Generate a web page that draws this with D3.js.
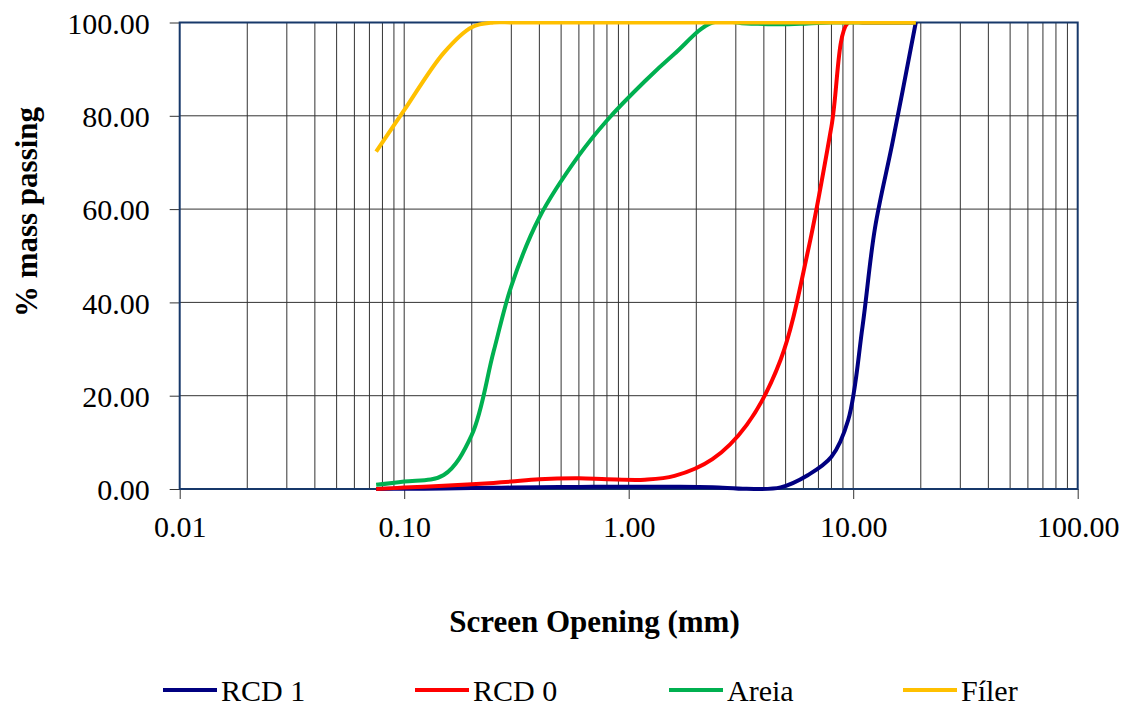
<!DOCTYPE html>
<html>
<head>
<meta charset="utf-8">
<script src="https://cdn.jsdelivr.net/npm/d3@7"></script>
<style>
  body { margin: 0; background: #fff; }
  text { font-family: "Liberation Serif", "Times New Roman", serif; fill: #000; }
</style>
</head>
<body>
<div id="chart"></div>
<script>
// sieve openings (mm) and % passing
const sieves = [0.075, 0.1, 0.15, 0.2, 0.25, 0.3, 0.4, 0.6, 0.8, 1.18, 1.6, 2.36, 3.35, 4.75, 6.3, 8, 9.5, 11, 12.5, 15, 19];
const rcd1  = [0, 0.05, 0.1, 0.2, 0.25, 0.3, 0.4, 0.45, 0.5, 0.5, 0.5, 0.4, 0.05, 0.35, 3.0, 6.9, 14.8, 34.8, 55.9, 74.5, 100];
const rcd0  = [0, 0.3, 0.7, 1.0, 1.3, 1.6, 2.1, 2.3, 2.1, 2.0, 2.8, 6.4, 13.7, 27.7, 51.2, 77.7, 100, 100, 100, 100, 100];
const areia = [0.9, 1.6, 3.0, 11.6, 29.4, 43.5, 58.2, 71.5, 79.0, 87.4, 93.3, 100, 99.8, 99.6, 99.8, 100, 100, 100, 100, 100, 100];
const filer = [72.3, 81.2, 93.5, 99.0, 100, 100, 100, 100, 100, 100, 100, 100, 100, 100, 100, 100, 100, 100, 100, 100, 100];

const seriesNames  = ["RCD 1", "RCD 0", "Areia", "Fíler"];
const seriesColors = ["#000080", "#ff0000", "#00b050", "#ffc000"];
const xTicks = [0.01, 0.1, 1, 10, 100];
const yTicks = [0, 20, 40, 60, 80, 100];

const W = 1129, H = 707;
const plot = {left: 179.7, right: 1077.7, top: 22.5, bottom: 489};

const svg = d3.select("#chart").append("svg").attr("width", W).attr("height", H);

const x = d3.scaleLog().domain([0.01, 100]).range([plot.left, plot.right]);
const y = d3.scaleLinear().domain([0, 100]).range([plot.bottom, plot.top]);
const fmt = d3.format(".2f");

// grid lines
svg.append("g").selectAll("line")
  .data(x.ticks().filter(d => d > 0.01 && d < 100))
  .enter().append("line")
  .attr("x1", d => x(d)).attr("x2", d => x(d))
  .attr("y1", plot.top).attr("y2", plot.bottom)
  .attr("stroke", "#333").attr("stroke-width", 1);
svg.append("g").selectAll("line")
  .data(yTicks.filter(d => d > 0 && d < 100))
  .enter().append("line")
  .attr("x1", plot.left).attr("x2", plot.right)
  .attr("y1", d => y(d)).attr("y2", d => y(d))
  .attr("stroke", "#333").attr("stroke-width", 1);

// axes
const xAxis = svg.append("g").attr("transform", "translate(0," + plot.bottom + ")")
  .call(d3.axisBottom(x).tickValues(xTicks).tickFormat(fmt).tickSize(10).tickPadding(18));
const yAxis = svg.append("g").attr("transform", "translate(" + plot.left + ",0)")
  .call(d3.axisLeft(y).tickValues(yTicks).tickFormat(fmt).tickSize(10).tickPadding(20));
[xAxis, yAxis].forEach(a => {
  a.select(".domain").remove();
  a.selectAll("line").attr("stroke", "#333");
  a.selectAll("text").style("font-family", "Liberation Serif").style("font-size", "30px").attr("fill", "#000");
});
xAxis.selectAll("text").attr("dy", null).attr("y", 48);
yAxis.selectAll("text").attr("dy", "0.36em");

// plot frame
svg.append("rect")
  .attr("x", plot.left).attr("y", plot.top)
  .attr("width", plot.right - plot.left).attr("height", plot.bottom - plot.top)
  .attr("fill", "none").attr("stroke", "#17386a").attr("stroke-width", 2);

// curves, clipped just outside the plot area like the spreadsheet does
svg.append("clipPath").attr("id", "clip").append("rect")
  .attr("x", plot.left - 3).attr("y", plot.top - 1.5)
  .attr("width", plot.right - plot.left + 6).attr("height", plot.bottom - plot.top + 3.5);

const line = d3.line()
  .x(d => x(d[0])).y(d => y(d[1]))
  .curve(d3.curveCatmullRom);

[rcd1, rcd0, areia, filer].forEach((vals, i) => {
  svg.append("path")
    .datum(sieves.map((s, j) => [s, vals[j]]))
    .attr("d", line)
    .attr("fill", "none")
    .attr("stroke", seriesColors[i])
    .attr("stroke-width", 4)
    .attr("stroke-linejoin", "round")
    .attr("clip-path", "url(#clip)");
});

// axis titles
svg.append("text")
  .attr("x", 594.5).attr("y", 632)
  .attr("text-anchor", "middle")
  .style("font-size", "31px").style("font-weight", "bold")
  .text("Screen Opening (mm)");
svg.append("text")
  .attr("transform", "translate(37,212) rotate(-90)")
  .attr("text-anchor", "middle")
  .style("font-size", "31px").style("font-weight", "bold")
  .text("% mass passing");

// legend
const legendX = [163, 415, 669, 903];
const legend = svg.append("g").selectAll("g")
  .data(seriesNames).enter().append("g")
  .attr("transform", (d, i) => "translate(" + legendX[i] + ",690)");
legend.append("line")
  .attr("x1", 0).attr("x2", 54).attr("y1", 0).attr("y2", 0)
  .attr("stroke", (d, i) => seriesColors[i]).attr("stroke-width", 4);
legend.append("text")
  .attr("x", 58).attr("y", 10.5)
  .style("font-size", "30px")
  .text(d => d);
</script>
</body>
</html>
